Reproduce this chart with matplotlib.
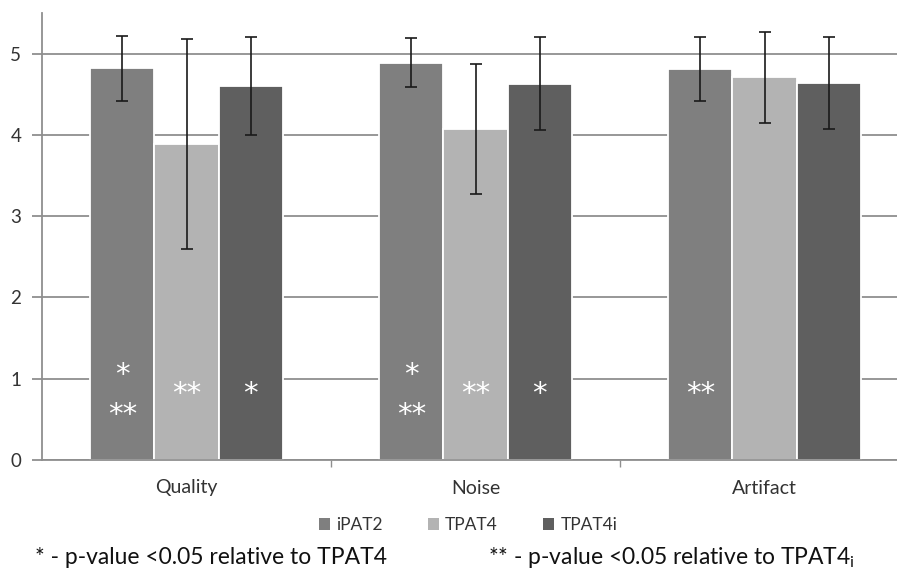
import matplotlib
matplotlib.use("Agg")
import matplotlib.pyplot as plt
import matplotlib.transforms as mtransforms
import numpy as np
from matplotlib.patches import Patch

plt.rcParams['font.family'] = ['Lato', 'DejaVu Sans']

categories = ["Quality", "Noise", "Artifact"]
series = ["iPAT2", "TPAT4", "TPAT4i"]
ipat2 = [4.82, 4.89, 4.81]
tpat4 = [3.89, 4.07, 4.71]
tpat4i = [4.60, 4.63, 4.64]
ipat2_err = [0.40, 0.30, 0.39]
tpat4_err = [1.29, 0.80, 0.56]
tpat4i_err = [0.60, 0.57, 0.57]
# significance marks per bar (category, series)
ipat2_marks = [["*", "**"], ["*", "**"], ["**"]]
tpat4_marks = [["**"], ["**"], []]
tpat4i_marks = [["*"], ["*"], []]
yticks = [0, 1, 2, 3, 4, 5]

values = [ipat2, tpat4, tpat4i]
errs = [ipat2_err, tpat4_err, tpat4i_err]
marks = [ipat2_marks, tpat4_marks, tpat4i_marks]
colors = ["#7f7f7f", "#b3b3b3", "#5f5f5f"]

fig = plt.figure(figsize=(8.97, 5.78), dpi=100)
ax = fig.add_axes([42/897, 1-460/578, 1-42/897, (460-13)/578])

x = np.arange(len(categories))
w = 0.222
for i, (vals, er, c) in enumerate(zip(values, errs, colors)):
    pos = x + (i - 1) * w
    ax.bar(pos, vals, width=w, color=c, edgecolor="white", linewidth=1.3, zorder=2, label=series[i])
    ax.errorbar(pos, vals, yerr=er, fmt="none", ecolor="#1a1a1a", elinewidth=1.2,
                capsize=4, capthick=1.2, zorder=3)
    for j, mk in enumerate(marks[i]):
        if len(mk) == 2:
            ys = [1.04, 0.55]
        elif len(mk) == 1:
            ys = [0.81]
        else:
            ys = []
        for m, yy in zip(mk, ys):
            ax.text(pos[j], yy, m, color="white", fontsize=21, ha="center", va="center",
                    family="DejaVu Sans", zorder=4)

ax.set_xlim(-0.5, -0.5 + (897-42)/289)
ax.set_ylim(0, 5.5)
ax.set_yticks(yticks)
ax.set_yticklabels([str(t) for t in yticks], fontsize=13.5, color="#333333")
ax.yaxis.grid(True, color="#8f8f8f", linewidth=1.3, zorder=0)
ax.set_axisbelow(True)
for s in ["top", "right"]:
    ax.spines[s].set_visible(False)
for s in ["left", "bottom"]:
    ax.spines[s].set_color("#8f8f8f")
    ax.spines[s].set_linewidth(1.3)
ax.tick_params(axis="y", length=7, color="#8f8f8f", width=1.3, pad=8)
ax.set_xticks([0.5, 1.5], minor=False)
ax.set_xticklabels([])
ax.tick_params(axis="x", length=5, color="#8f8f8f", width=1.0)
trans = mtransforms.blended_transform_factory(ax.transData, fig.transFigure)
for j, cat in enumerate(categories):
    ax.text(x[j], 1-488/578, cat, ha="center", va="center", fontsize=14, color="#333333",
            transform=trans)

handles = [Patch(facecolor=c, edgecolor="none") for c in colors]
fig.legend(handles, series, loc="center", bbox_to_anchor=(468/897, 1-525/578), ncol=3,
           frameon=False, fontsize=12.5, handlelength=0.65, handleheight=0.65,
           handletextpad=0.35, columnspacing=2.6, labelcolor="#333333")

fig.text(35/897, 1-558/578, "* - p-value <0.05 relative to TPAT4", fontsize=16.5, va="center",
         color="#111111")
fig.text(488/897, 1-558/578, "** - p-value <0.05 relative to TPAT4$_\\mathregular{i}$", fontsize=16.5,
         va="center", color="#111111")

fig.savefig("out.png", dpi=100, facecolor="white")
